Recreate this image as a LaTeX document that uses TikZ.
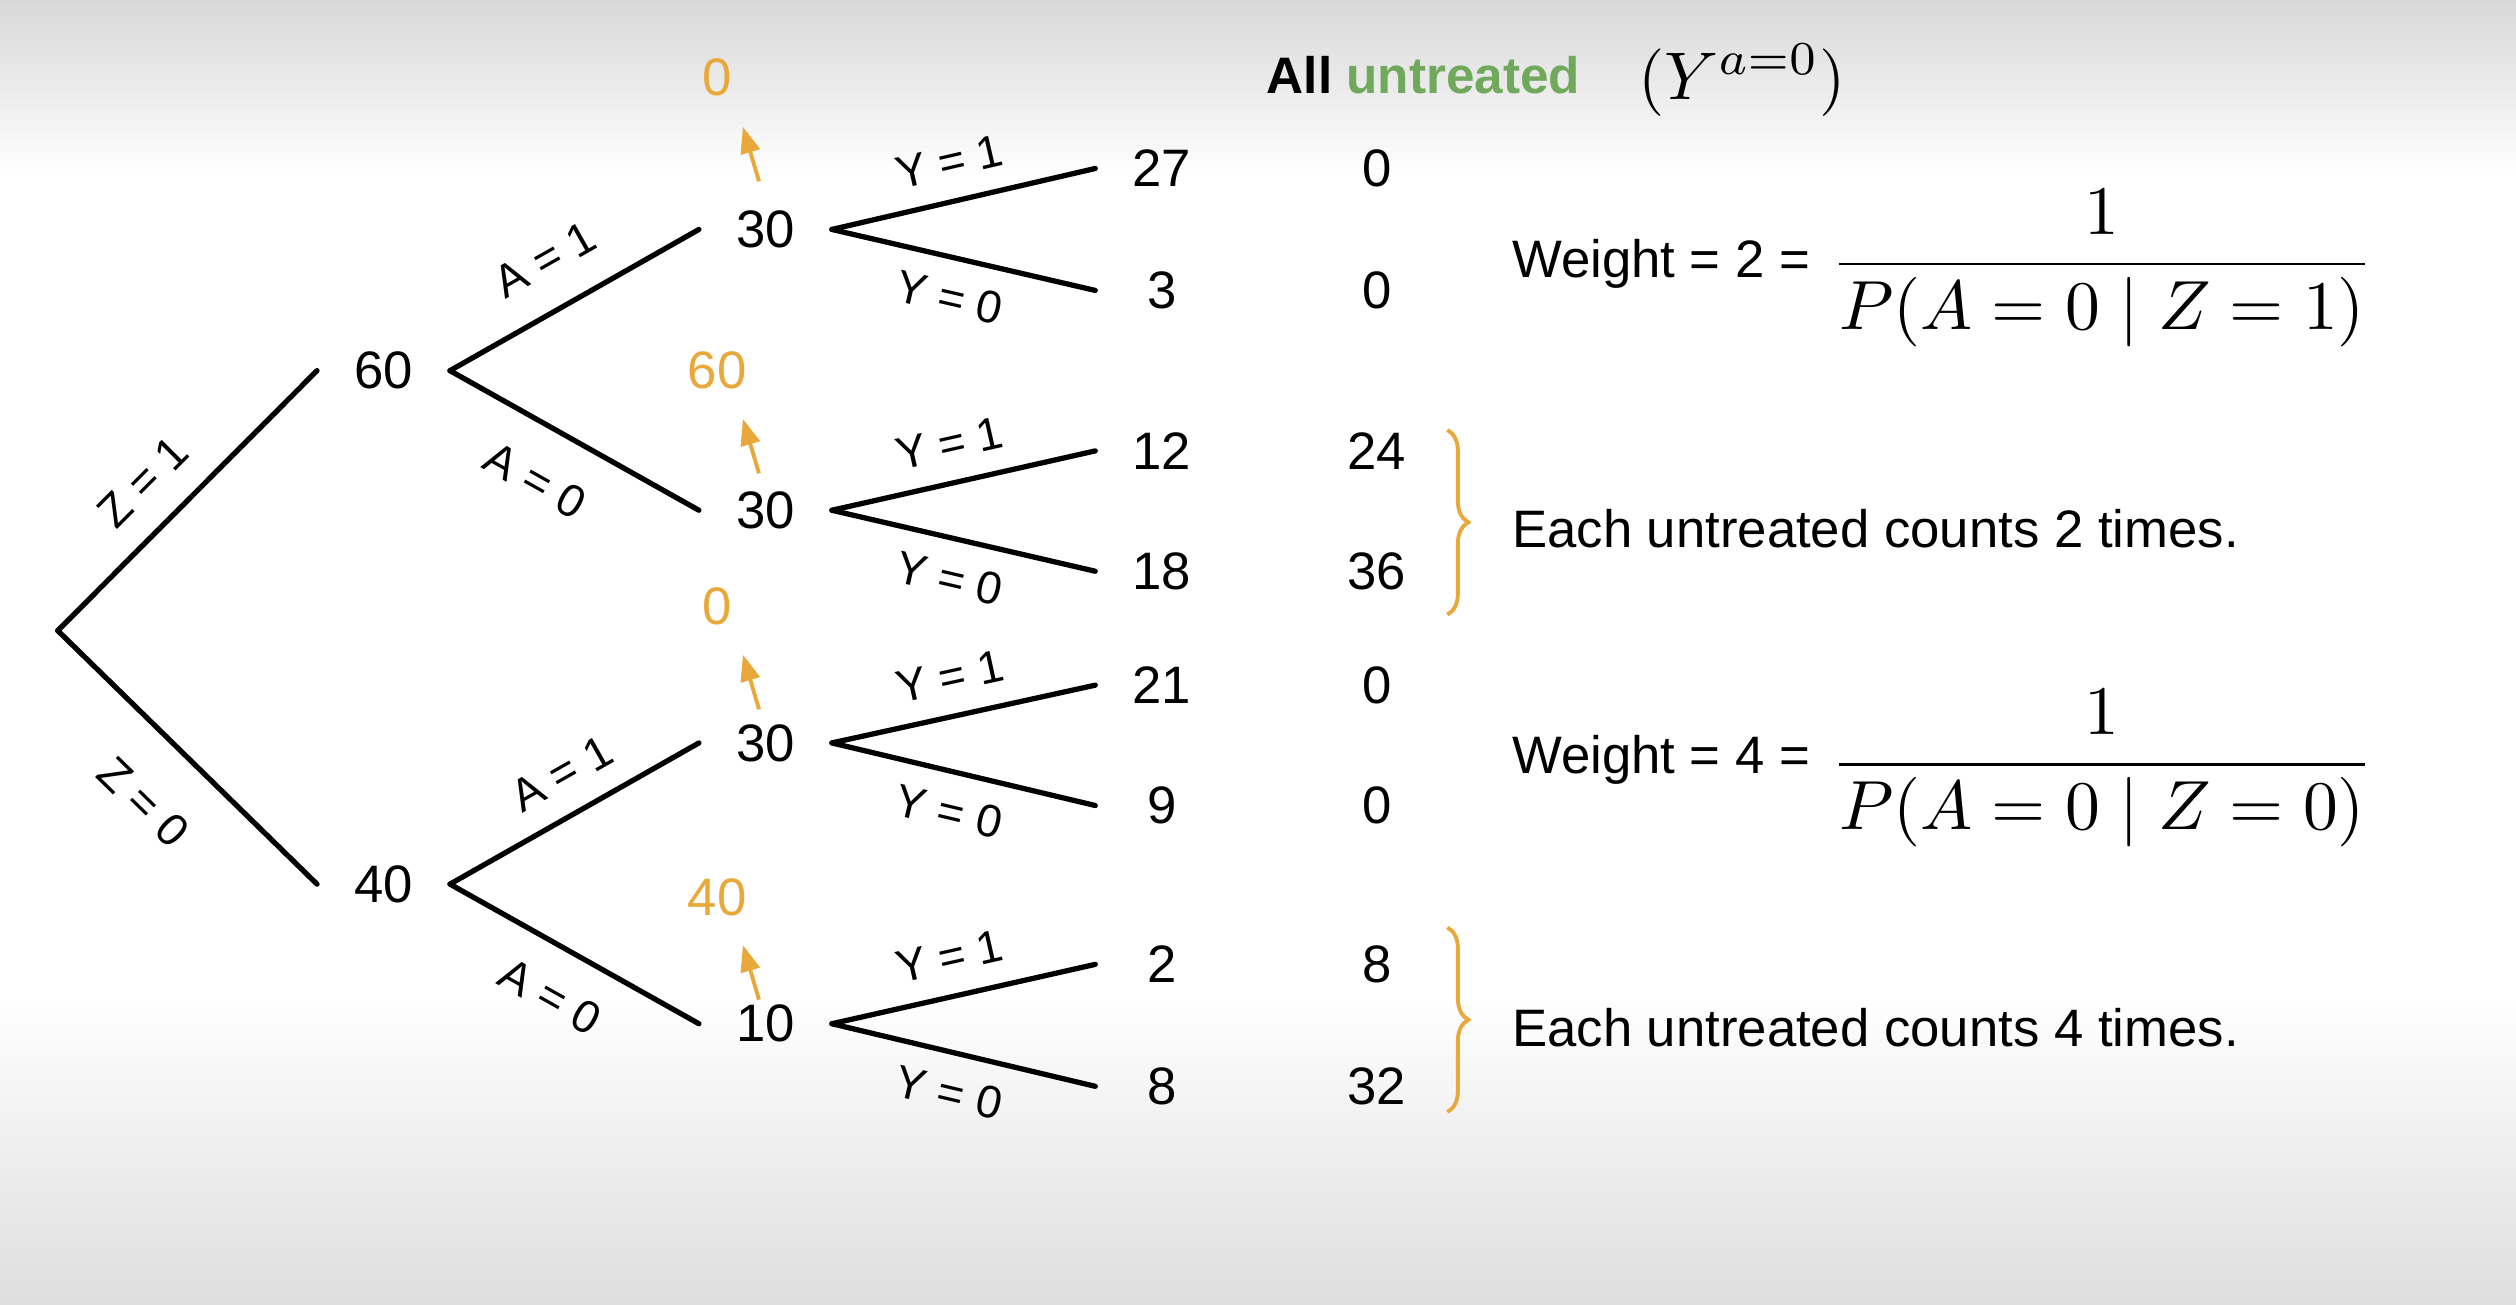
\documentclass[tikz,border=0pt]{standalone}
\usepackage[no-math]{fontspec}
\setmainfont{Liberation Sans}
\usetikzlibrary{arrows.meta,decorations.pathreplacing}
\definecolor{myorange}{RGB}{233,168,58}
\definecolor{mygreen}{RGB}{112,168,92}
\definecolor{bgtop}{RGB}{216,216,216}
\definecolor{bgbot}{RGB}{222,222,222}
\newcommand\myNum{\fontsize{15}{18}\selectfont}
\newcommand\myLab{\fontsize{13}{15}\selectfont}
\begin{document}
\begin{tikzpicture}[x=0.016046cm, y=-0.016046cm,
  num/.style={font=\myNum, inner sep=0pt, minimum width=1.316cm},
  onum/.style={font=\myNum, text=myorange, inner sep=0pt},
  branch/.style={line width=1.5pt, black, line cap=round},
  lab/.style={font=\myLab, sloped, inner sep=1pt},
  oarrow/.style={myorange, line width=1.1pt, -{Triangle[length=7.5pt,width=5.5pt]}},
  obrace/.style={myorange, line width=1.1pt, decorate, decoration={brace, amplitude=6pt}},
  txt/.style={font=\myNum, inner sep=0pt, anchor=base west},
  mathtxt/.style={font=\normalsize, inner sep=0pt, scale=1.98}
]
% background
\useasboundingbox (0,0) rectangle (1568,813);
\fill[white] (0,0) rectangle (1568,813);
\fill[top color=bgtop, bottom color=white] (0,0) rectangle (1568,110);
\fill[top color=white, bottom color=bgbot] (0,620) rectangle (1568,813);

% tree nodes
\coordinate (root) at (36,393);
\node[num] (n60) at (239,231) {60};
\node[num] (n40) at (239,551) {40};
\node[num] (m1) at (477,143) {30};
\node[num] (m2) at (477,318) {30};
\node[num] (m3) at (477,463) {30};
\node[num] (m4) at (477,638) {10};
\node[num] (l1) at (724,105) {27};
\node[num] (l2) at (724,181) {3};
\node[num] (l3) at (724,281) {12};
\node[num] (l4) at (724,356) {18};
\node[num] (l5) at (724,427) {21};
\node[num] (l6) at (724,502) {9};
\node[num] (l7) at (724,601) {2};
\node[num] (l8) at (724,677) {8};
\node[num] (r1) at (858,105) {0};
\node[num] (r2) at (858,181) {0};
\node[num] (r3) at (858,281) {24};
\node[num] (r4) at (858,356) {36};
\node[num] (r5) at (858,427) {0};
\node[num] (r6) at (858,502) {0};
\node[num] (r7) at (858,601) {8};
\node[num] (r8) at (858,677) {32};

% orange numbers
\node[onum] (o1) at (447,48) {0};
\node[onum] (o2) at (447,231) {60};
\node[onum] (o3) at (447,378) {0};
\node[onum] (o4) at (447,559) {40};

% branches
\draw[branch] (root) -- node[lab, pos=0.45, above=6.5pt]{Z = 1} (n60.west);
\draw[branch] (root) -- node[lab, pos=0.5, below=11.5pt]{Z = 0} (n40.west);
\draw[branch] (n60.east) -- node[lab, pos=0.48, above=8pt]{A = 1} (m1.west);
\draw[branch] (n60.east) -- node[lab, pos=0.45, below=9pt]{A = 0} (m2.west);
\draw[branch] (n40.east) -- node[lab, pos=0.53, above=5.5pt]{A = 1} (m3.west);
\draw[branch] (n40.east) -- node[lab, pos=0.5, below=7.5pt]{A = 0} (m4.west);
\foreach \m/\a/\b in {m1/l1/l2, m2/l3/l4, m3/l5/l6, m4/l7/l8}{
  \draw[branch] (\m.east) -- node[lab, pos=0.48, above=5pt]{Y = 1} (\a.west);
  \draw[branch] (\m.east) -- node[lab, pos=0.48, below=5pt]{Y = 0} (\b.west);
}

% orange arrows
\coordinate (a1s) at (473,113); \coordinate (a1e) at (463,79);
\coordinate (a2s) at (473,295); \coordinate (a2e) at (463,261);
\coordinate (a3s) at (473,442); \coordinate (a3e) at (463,408);
\coordinate (a4s) at (473,623); \coordinate (a4e) at (463,589);
\draw[oarrow] (a1s) -- (a1e);
\draw[oarrow] (a2s) -- (a2e);
\draw[oarrow] (a3s) -- (a3e);
\draw[oarrow] (a4s) -- (a4e);

% braces
\coordinate (b1t) at (902,268); \coordinate (b1b) at (902,383);
\coordinate (b2t) at (902,578); \coordinate (b2b) at (902,693);
\draw[obrace] (b1t) -- (b1b);
\draw[obrace] (b2t) -- (b2b);

% right texts
\node[txt] (e1) at (942,341) {Each untreated counts 2 times.};
\node[txt] (e2) at (942,652) {Each untreated counts 4 times.};
\node[txt] (w1) at (942,173) {Weight = 2 =};
\node[txt] (w2) at (942,482) {Weight = 4 =};
\node[mathtxt] (f1) at (1310,167) {$\displaystyle\frac{1}{P(A=0\mid Z=1)}$};
\node[mathtxt] (f2) at (1310,479) {$\displaystyle\frac{1}{P(A=0\mid Z=0)}$};

% title
\node[txt, font=\fontsize{14.6}{18}\selectfont\bfseries] (t1) at (789,58) {All \textcolor{mygreen}{untreated}};
\node[mathtxt, anchor=west, scale=0.97] (t2) at (1020,50) {$(Y^{a=0})$};
\end{tikzpicture}
\end{document}
